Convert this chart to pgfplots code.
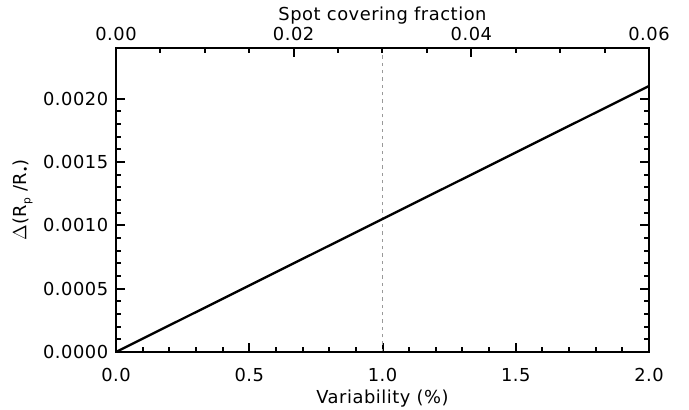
\documentclass[border=0pt]{standalone}
\usepackage{fontspec}
\setmainfont[LetterSpace=3]{DejaVu Sans}
\usepackage{pgfplots}
\pgfplotsset{compat=1.18}
\usetikzlibrary{calc}
\newcommand{\lblfont}{\fontsize{13.4}{16}\selectfont}

\pgfplotsset{
  idlframe/.style={
    scale only axis, width=399.75pt, height=228pt,
    tick align=inside,
    major tick length=7pt, minor tick length=3.5pt,
    axis line style={line width=2.1pt},
    every tick/.style={black, line width=1.5pt},
    every tick label/.append style={font=\lblfont},
    label style={font=\lblfont},
    /pgf/number format/assume math mode=true,
  },
}

\begin{document}
\begin{tikzpicture}
  % bottom and left axes, with the data
  \begin{axis}[
    idlframe,
    xmin=0, xmax=2, ymin=0, ymax=0.0024,
    xtick={0,0.5,1,1.5,2}, minor x tick num=4,
    ytick={0,0.0005,0.001,0.0015,0.002}, minor y tick num=4,
    xtick pos=left, ytick pos=both, yticklabel pos=left,
    scaled y ticks=false,
    xticklabel style={anchor=center, yshift=-17pt,
      /pgf/number format/.cd, fixed, fixed zerofill, precision=1},
    yticklabel style={anchor=east, xshift=-2.3pt,
      /pgf/number format/.cd, fixed, fixed zerofill, precision=4},
    xlabel={Variability (\%)},
    xlabel style={at={(axis description cs:0.5,0)}, anchor=center, yshift=-35pt},
    ylabel={\(\Delta\)(R\raisebox{-0.4ex}{\footnotesize p} /R\raisebox{-0.3ex}{\footnotesize •})},
    ylabel style={at={(axis description cs:-0.175,0.5)}, anchor=center},
  ]
    \addplot[gray!80, line width=0.6pt, dash pattern=on 2.5pt off 3pt] coordinates {(1,0) (1,0.0024)};
    \addplot[black, line width=1.75pt] coordinates {(0,0) (2,0.0021)};
    \coordinate (sw) at (rel axis cs:0,0);
  \end{axis}
  % top axis: spot covering fraction
  \begin{axis}[
    idlframe,
    xmin=0, xmax=0.06, ymin=0, ymax=1,
    hide y axis,
    xtick={0,0.02,0.04,0.06}, minor x tick num=3,
    xtick pos=right, xticklabel pos=right,
    scaled x ticks=false,
    xticklabel style={anchor=center, yshift=10.5pt,
      /pgf/number format/.cd, fixed, fixed zerofill, precision=2},
    xlabel={Spot covering fraction},
    xlabel style={at={(axis description cs:0.5,1)}, anchor=center, yshift=24pt},
  ]
  \end{axis}
  \pgfresetboundingbox
  \path[use as bounding box] ($(sw)+(-87pt,-43.5pt)$) rectangle ++(516.75pt,307.5pt);
\end{tikzpicture}
\end{document}
